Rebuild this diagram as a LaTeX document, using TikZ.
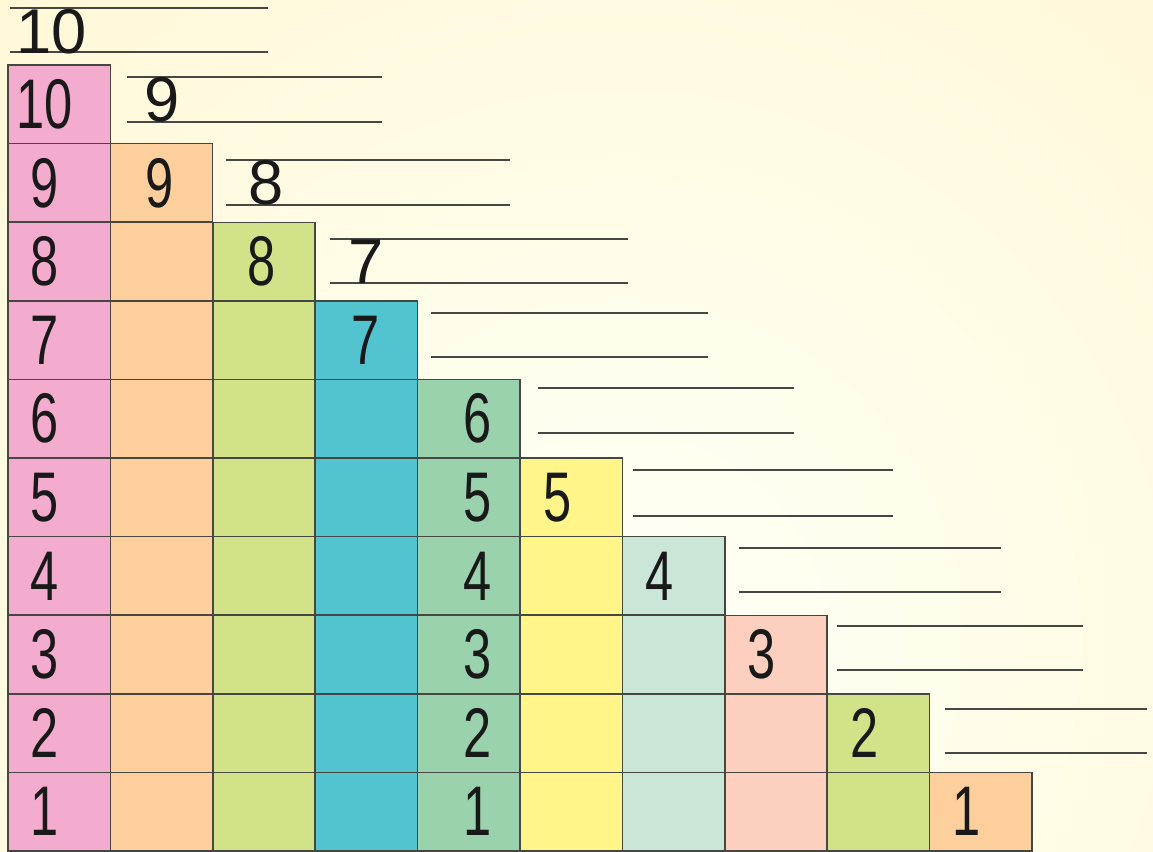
\documentclass[tikz,border=0pt]{standalone}
\usepackage{fontspec}
\newfontfamily\numfont{Liberation Sans}
\newfontfamily\narrownum[FakeStretch=0.72]{Liberation Sans}
\usetikzlibrary{positioning}
\definecolor{bgyellow}{RGB}{255,246,204}
\definecolor{bgwhite}{RGB}{255,255,246}
\definecolor{pinkcol}{RGB}{243,172,206}
\definecolor{orangecol}{RGB}{253,207,156}
\definecolor{limecol}{RGB}{210,226,136}
\definecolor{tealcol}{RGB}{82,196,208}
\definecolor{mintcol}{RGB}{153,210,173}
\definecolor{yellowcol}{RGB}{255,245,136}
\definecolor{palemint}{RGB}{201,230,214}
\definecolor{salmoncol}{RGB}{252,207,190}
\definecolor{rulegray}{RGB}{70,70,66}

\begin{document}
\begin{tikzpicture}[x=0.02cm,y=-0.02cm,
    cell/.style={draw=rulegray,line width=0.8pt,minimum width=2.048cm,minimum height=1.572cm,inner sep=0pt,outer sep=0pt},
    cellnum/.style={font=\narrownum\fontsize{40}{40}\selectfont,inner sep=0pt,text=black!90},
    linenum/.style={font=\numfont\fontsize{36}{36}\selectfont,inner sep=0pt,text=black!90},
    rule/.style={draw=rulegray,line width=0.8pt}]
    \begin{scope}
        \clip (0,0) rectangle (1153,852);
        \shade[inner color=bgwhite,outer color=bgyellow] (620,640) circle (1250);
    \end{scope}
    \useasboundingbox (0,0) rectangle (1153,852);
    % staircase of columns
    \foreach \c/\col in {1/pinkcol,2/orangecol,3/limecol,4/tealcol,5/mintcol,6/yellowcol,7/palemint,8/salmoncol,9/limecol,10/orangecol}{
        \foreach \k in {\c,...,10}{
            \node[cell,fill=\col] (c\c-\k) at ({8+102.4*(\c-0.5)},{65+78.6*(\k-0.5)}) {};
        }
    }
    % numbers in the cells
    \foreach \k [evaluate=\k as \n using int(11-\k)] in {1,...,10}{
        \node[cellnum] (n1-\k) at ({45},{65+78.6*(\k-0.5)}) {\n};
    }
    \foreach \k [evaluate=\k as \n using int(11-\k)] in {5,...,10}{
        \node[cellnum] (n5-\k) at ({478},{65+78.6*(\k-0.5)}) {\n};
    }
    \foreach \c/\x in {2/160,3/262,4/366,6/558,7/660,8/762,9/865,10/967}{
        \pgfmathtruncatemacro{\n}{11-\c}
        \node[cellnum] (n\c-\c) at ({\x},{65+78.6*(\c-0.5)}) {\n};
    }
    % writing lines
    \foreach \j/\xa/\xb/\ya/\yb in {1/10/268/8/52,2/127/382/77/122,3/226/510/160/205,4/330/628/239/283,5/431/708/313/357,
        6/538/794/388/433,7/633/893/470/516,8/739/1001/548/592,9/837/1083/626/670,10/945/1147/709/753}{
        \coordinate (ua\j) at (\xa,\ya);
        \coordinate (ub\j) at (\xb,\ya);
        \coordinate (la\j) at (\xa,\yb);
        \coordinate (lb\j) at (\xb,\yb);
        \draw[rule] (ua\j) -- (ub\j);
        \draw[rule] (la\j) -- (lb\j);
    }
    \node[linenum] (w10) at (52,32) {10};
    \node[linenum] (w9) at (162,100) {9};
    \node[linenum] (w8) at (266,183) {8};
    \node[linenum] (w7) at (366,262) {7};
\end{tikzpicture}
\end{document}
